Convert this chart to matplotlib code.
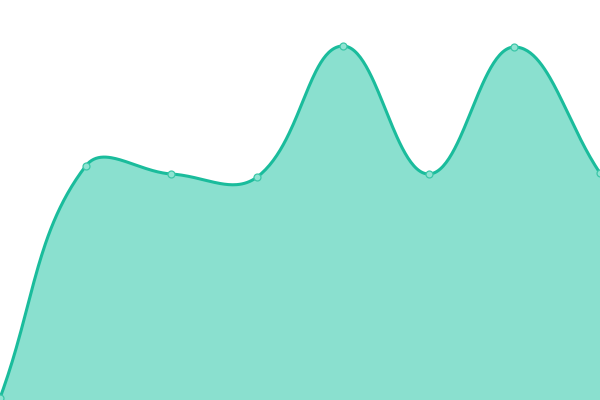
import numpy as np
import matplotlib
matplotlib.use("Agg")
import matplotlib.pyplot as plt

# values (height above bottom, in pixels of a 400px chart)
labels = ["A", "B", "C", "D", "E", "F", "G", "H"]
values = [2, 234, 226, 223, 354, 226, 353, 227]

line_color = "#1abc9c"
fill_color = "#8ae0cf"
tension = 0.4

fig = plt.figure(figsize=(6, 4), dpi=100)
ax = fig.add_axes([0, 0, 1, 1])
n = len(values)
ax.set_xlim(0, n - 1)
ax.set_ylim(0, 400)
ax.axis("off")

# spline in pixel space, like Chart.js "tension" curves
sx = 600 / (n - 1)
px = np.arange(n) * sx
py = np.array(values, dtype=float)

cp_prev = []
cp_next = []
for i in range(n):
    p0 = i - 1 if i > 0 else i
    p2 = i + 1 if i < n - 1 else i
    d01 = np.hypot(px[i] - px[p0], py[i] - py[p0])
    d12 = np.hypot(px[p2] - px[i], py[p2] - py[i])
    tot = d01 + d12
    s01 = d01 / tot if tot else 0
    s12 = d12 / tot if tot else 0
    fa = tension * s01
    fb = tension * s12
    dx = px[p2] - px[p0]
    dy = py[p2] - py[p0]
    cp_prev.append((px[i] - fa * dx, py[i] - fa * dy))
    cp_next.append((px[i] + fb * dx, py[i] + fb * dy))

xs = []
ys = []
t = np.linspace(0, 1, 60)
for i in range(n - 1):
    x0, y0 = px[i], py[i]
    x1, y1 = cp_next[i]
    x2, y2 = cp_prev[i + 1]
    x3, y3 = px[i + 1], py[i + 1]
    bx = (1 - t) ** 3 * x0 + 3 * (1 - t) ** 2 * t * x1 + 3 * (1 - t) * t ** 2 * x2 + t ** 3 * x3
    by = (1 - t) ** 3 * y0 + 3 * (1 - t) ** 2 * t * y1 + 3 * (1 - t) * t ** 2 * y2 + t ** 3 * y3
    xs.extend(bx)
    ys.extend(by)

xs = np.array(xs) / sx
ys = np.clip(np.array(ys), 0, 400)

ax.fill_between(xs, 0, ys, color=fill_color, lw=0)
ax.plot(xs, ys, color=line_color, lw=2.2, solid_capstyle="round")
ax.plot(np.arange(n), values, "o", ms=5, mfc="#8fe3d2", mec="#3cc7a8", mew=0.9, clip_on=False)

fig.savefig("out.png", dpi=100)
